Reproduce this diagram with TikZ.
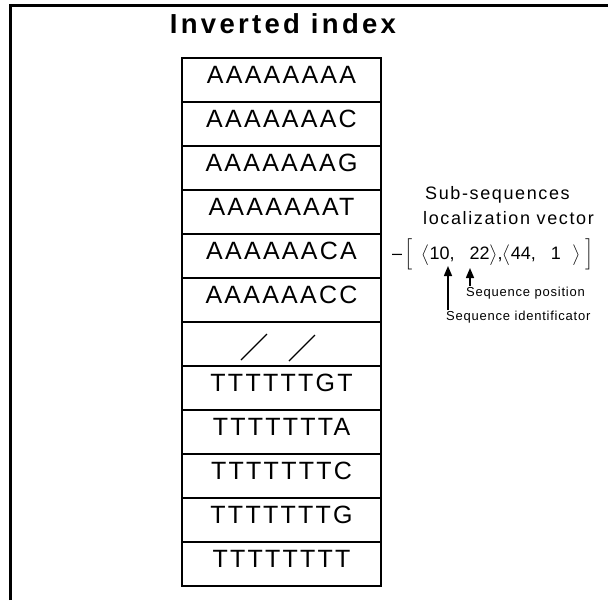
\documentclass[tikz,border=0pt]{standalone}
\usepackage{amsmath}
\usepackage{fontspec}
\usepackage{tikz}
\usetikzlibrary{arrows.meta,positioning}
\setmainfont{Liberation Sans}
\newfontfamily\titlefont[LetterSpace=12]{Liberation Sans}
\newfontfamily\cellfont[LetterSpace=9]{Liberation Sans}
\newfontfamily\notefont[LetterSpace=6]{Liberation Sans}

\begin{document}
\begin{tikzpicture}[x=1pt,y=-1pt,
  cell/.style={draw,line width=2pt,minimum width=199pt,minimum height=44pt,
               inner sep=0pt,text height=18pt,text depth=12pt,
               font=\cellfont\fontsize{25}{30}\selectfont},
  lab/.style={inner sep=0pt,anchor=base west},
  arr/.style={-{Triangle[length=10pt,width=8pt]},line width=1.5pt}]
  \useasboundingbox (0,0) rectangle (608,600);
  % frame
  \draw[line width=3pt] (10,600) -- (10,5) -- (608,5);
  \node[anchor=base,inner sep=0pt,
        font=\titlefont\bfseries\fontsize{27.5}{30}\selectfont]
    (title) at (283,33) {Inverted index};
  % index table
  \node[cell](r1) at (281.5,80) {AAAAAAAA};
  \node[cell](r2) at (281.5,124) {AAAAAAAC};
  \node[cell](r3) at (281.5,168) {AAAAAAAG};
  \node[cell](r4) at (281.5,212) {AAAAAAAT};
  \node[cell](r5) at (281.5,256) {AAAAAACA};
  \node[cell](r6) at (281.5,300) {AAAAAACC};
  \node[cell](r7) at (281.5,344) {};
  \node[cell](r8) at (281.5,388) {TTTTTTGT};
  \node[cell](r9) at (281.5,432) {TTTTTTTA};
  \node[cell](r10) at (281.5,476) {TTTTTTTC};
  \node[cell](r11) at (281.5,520) {TTTTTTTG};
  \node[cell](r12) at (281.5,564) {TTTTTTTT};
  \draw[line width=1.2pt] (241,360) -- (267,334);
  \draw[line width=1.2pt] (289,361) -- (315,335);
  % localization vector
  \node[lab,font=\cellfont\fontsize{18}{20}\selectfont](sub1) at (425,199) {Sub-sequences};
  \node[lab,font=\cellfont\fontsize{18}{20}\selectfont](sub2) at (423,224) {localization vector};
  \node[lab,text height=13pt,text depth=4pt,font=\fontsize{18}{23}\selectfont](vec) at (392,259)
    {–\hspace{2pt}$\Bigl[$\hspace{9pt}$\bigl\langle$10,\hspace{15pt}22$\bigr\rangle$,$\bigl\langle$44,\hspace{15pt}1\hspace{12pt}$\bigr\rangle$\hspace{4pt}$\Bigr]$};
  \node[lab,font=\notefont\fontsize{13}{15}\selectfont](poslab) at (466,296) {Sequence position};
  \node[lab,font=\notefont\fontsize{13}{15}\selectfont](idlab) at (446,320) {Sequence identificator};
  \coordinate (idtip) at (448,266);
  \coordinate (postip) at (470,268);
  \draw[arr](idlab.north west -| idtip) -- (idtip);
  \draw[arr](poslab.north west -| postip) -- (postip);
\end{tikzpicture}
\end{document}
